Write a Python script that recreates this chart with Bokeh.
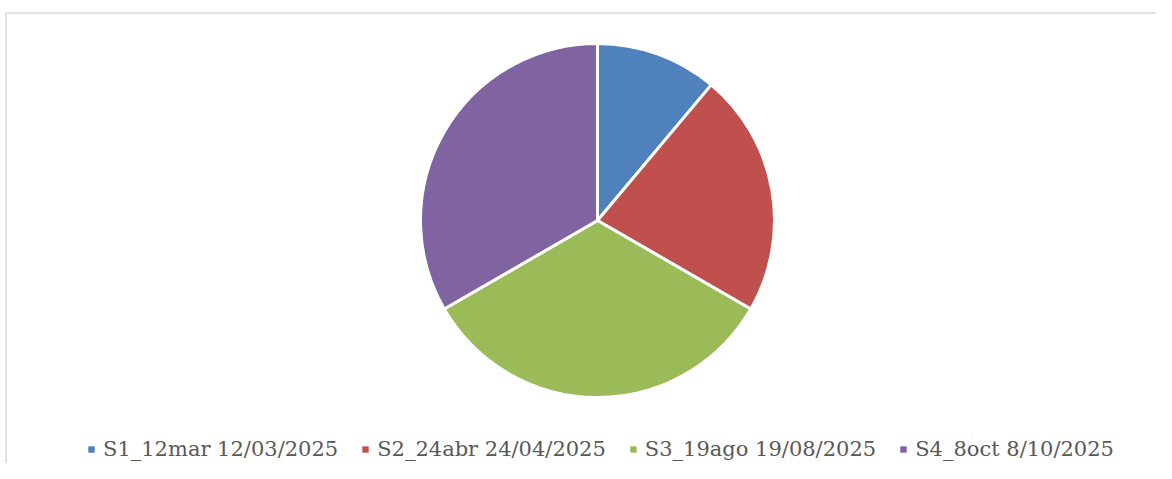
import math
from bokeh.plotting import figure
from bokeh.models import Range1d, Legend, LegendItem, ColumnDataSource
from bokeh.embed import file_html
from bokeh.resources import INLINE

labels = ["S1_12mar 12/03/2025", "S2_24abr 24/04/2025", "S3_19ago 19/08/2025", "S4_8oct 8/10/2025"]
values = [1, 2, 3, 3]
colors = ["#4F81BD", "#C0504D", "#9BBB59", "#8064A2"]

W, H = 1156, 463
p = figure(width=W, height=H, x_range=Range1d(0, W), y_range=Range1d(0, H),
           output_backend="svg", toolbar_location=None, min_border=0,
           x_axis_location=None, y_axis_location=None)
p.grid.visible = False
p.outline_line_color = None

# chart frame (light gray)
p.line(x=[5.5, 5.5, W], y=[0, H - 12.5, H - 12.5], line_color="#d9d9d9", line_width=1.5)

total = float(sum(values))
starts, ends = [], []
cum = 0.0
for v in values:
    a0 = cum / total
    cum += v
    a1 = cum / total
    ends.append(math.pi / 2 - 2 * math.pi * a0)
    starts.append(math.pi / 2 - 2 * math.pi * a1)

src = ColumnDataSource(dict(start=starts, end=ends, color=colors, label=labels))
cx, cy, R = 597, H - 220, 177
p.wedge(x=cx, y=cy, radius=R, start_angle="start", end_angle="end",
        fill_color="color", line_color="white", line_width=3, source=src)

items = []
for lab, col in zip(labels, colors):
    r = p.quad(left=[float("nan")], right=[float("nan")], top=[float("nan")], bottom=[float("nan")],
               fill_color=col, line_color=None)
    items.append(LegendItem(label=lab, renderers=[r]))

legend = Legend(items=items, orientation="horizontal", location=(87, 2),
                glyph_width=8, glyph_height=8, label_standoff=8, spacing=23,
                padding=0, margin=0, border_line_alpha=0, background_fill_alpha=0,
                label_text_font="DejaVu Serif", label_text_font_size="21px",
                label_text_color="#595959", label_height=24)
p.add_layout(legend)

open("out.html", "w").write(file_html(p, INLINE))
